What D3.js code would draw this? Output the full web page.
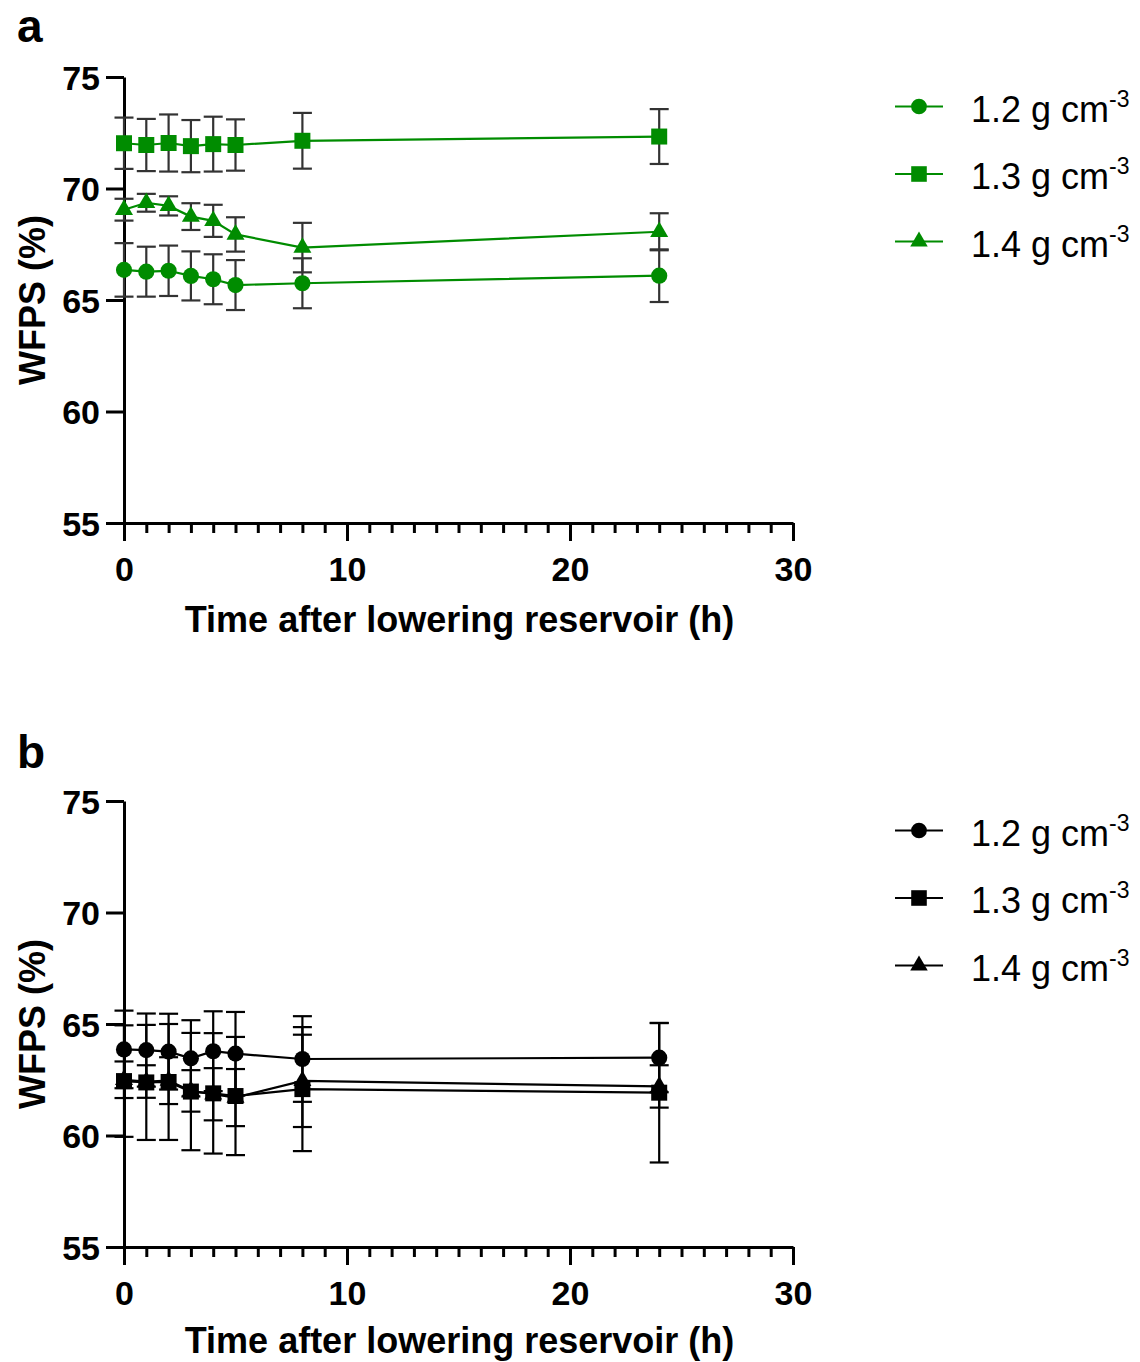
<!DOCTYPE html>
<html>
<head>
<meta charset="utf-8">
<script src="https://cdn.jsdelivr.net/npm/d3@7"></script>
<style>
  html, body { margin: 0; padding: 0; background: #fff; }
  svg { display: block; }
  text { font-family: "Liberation Sans", Arial, Helvetica, sans-serif; fill: #000; }
</style>
</head>
<body>
<svg id="fig" width="1140" height="1362"></svg>
<script>
// Sampling times (h after lowering the reservoir)
const hours = [0, 1, 2, 3, 4, 5, 8, 24];
const densityLabels = ["1.2", "1.3", "1.4"];
const xTicks = [0, 10, 20, 30];
const yTicks = [55, 60, 65, 70, 75];

// Panel a: mean WFPS (%) and error per bulk density
const a12 = [66.35, 66.27, 66.31, 66.08, 65.93, 65.67, 65.75, 66.09];
const a12err = [1.2, 1.12, 1.13, 1.1, 1.12, 1.12, 1.12, 1.18];
const a13 = [72.03, 71.95, 72.04, 71.9, 71.99, 71.95, 72.14, 72.33];
const a13err = [1.15, 1.17, 1.28, 1.17, 1.23, 1.15, 1.25, 1.23];
const a14 = [69.05, 69.36, 69.22, 68.74, 68.55, 67.94, 67.35, 68.06];
const a14err = [0.49, 0.4, 0.43, 0.6, 0.72, 0.77, 1.11, 0.83];

// Panel b: mean WFPS (%) and error per bulk density
const b12 = [63.86, 63.83, 63.76, 63.46, 63.78, 63.67, 63.43, 63.49];
const b12err = [1.74, 1.64, 1.7, 1.71, 1.79, 1.87, 1.92, 1.55];
const b13 = [62.44, 62.38, 62.4, 61.97, 61.89, 61.77, 62.08, 61.92];
const b13err = [2.5, 2.58, 2.6, 2.63, 2.7, 2.65, 2.78, 3.13];
const b14 = [62.5, 62.42, 62.46, 62.0, 61.85, 61.7, 62.45, 62.2];
const b14err = [0.82, 0.73, 1.05, 0.93, 1.17, 1.28, 2.07, 0.95];

const svg = d3.select("#fig");
const shapes = [d3.symbolCircle, d3.symbolSquare, d3.symbolTriangle];
const shapeSize = [205, 256, 140];

function drawPanel(opts) {
  const { top, letter, letterY, titleY, color, barColor, series } = opts;
  const g = svg.append("g").attr("transform", `translate(0,${top})`);

  const x = d3.scaleLinear().domain([0, 30]).range([124, 793]);
  const y = d3.scaleLinear().domain([55, 75]).range([523, 77]);

  // Panel letter
  g.append("text").attr("x", 17).attr("y", letterY)
    .attr("font-size", 46).attr("font-weight", "bold").text(letter);

  // Minor x ticks (every hour)
  const minor = g.append("g").attr("transform", `translate(0,${y(55)})`)
    .call(d3.axisBottom(x).tickValues(d3.range(0, 31, 1)).tickSize(10).tickFormat(""));
  minor.select(".domain").remove();
  minor.selectAll("line").attr("stroke", "#000").attr("stroke-width", 3);

  // Major x axis
  const xa = g.append("g").attr("transform", `translate(0,${y(55)})`)
    .call(d3.axisBottom(x).tickValues(xTicks).tickSize(18).tickSizeOuter(0).tickFormat(d3.format("d")));
  xa.select(".domain").attr("stroke", "#000").attr("stroke-width", 3);
  xa.selectAll("line").attr("stroke", "#000").attr("stroke-width", 3);
  xa.selectAll("text").attr("y", 34).attr("dy", "0.71em")
    .attr("font-size", 34).attr("font-weight", "bold").attr("fill", "#000");

  // y axis
  const ya = g.append("g").attr("transform", `translate(${x(0)},0)`)
    .call(d3.axisLeft(y).tickValues(yTicks).tickSize(18).tickSizeOuter(0).tickPadding(6));
  ya.select(".domain").attr("stroke", "#000").attr("stroke-width", 3);
  ya.selectAll("line").attr("stroke", "#000").attr("stroke-width", 3);
  ya.selectAll("text").attr("dy", "0.36em")
    .attr("font-size", 34).attr("font-weight", "bold").attr("fill", "#000");

  // Axis titles
  g.append("text").attr("transform", `translate(45,${(y(55) + y(75)) / 2}) rotate(-90)`)
    .attr("text-anchor", "middle").attr("font-size", 36).attr("font-weight", "bold")
    .text("WFPS (%)");
  g.append("text").attr("x", (x(0) + x(30)) / 2 + 1).attr("y", titleY)
    .attr("text-anchor", "middle").attr("font-size", 36).attr("font-weight", "bold")
    .text("Time after lowering reservoir (h)");

  // Error bars
  const cap = 9.5;
  series.forEach(s => {
    const eb = g.append("g").attr("stroke", barColor).attr("stroke-width", 2.2).attr("fill", "none");
    hours.forEach((h, i) => {
      const cx = x(h), hi = y(s.mean[i] + s.err[i]), lo = y(s.mean[i] - s.err[i]);
      eb.append("line").attr("x1", cx).attr("x2", cx).attr("y1", hi).attr("y2", lo);
      eb.append("line").attr("x1", cx - cap).attr("x2", cx + cap).attr("y1", hi).attr("y2", hi);
      eb.append("line").attr("x1", cx - cap).attr("x2", cx + cap).attr("y1", lo).attr("y2", lo);
    });
  });

  // Connecting lines
  const line = d3.line().x((d, i) => x(hours[i])).y(d => y(d));
  series.forEach(s => {
    g.append("path").datum(s.mean).attr("d", line)
      .attr("fill", "none").attr("stroke", color).attr("stroke-width", 2.2);
  });

  // Markers
  series.forEach((s, k) => {
    const sym = d3.symbol().type(shapes[k]).size(shapeSize[k]);
    g.append("g").selectAll("path").data(s.mean).join("path")
      .attr("transform", (d, i) => `translate(${x(hours[i])},${y(d)})`)
      .attr("d", sym).attr("fill", color);
  });

  // Legend
  const rowY = [106.5, 174, 241.5];
  densityLabels.forEach((lab, k) => {
    const ry = rowY[k];
    g.append("line").attr("x1", 895).attr("x2", 943).attr("y1", ry).attr("y2", ry)
      .attr("stroke", color).attr("stroke-width", 2.2);
    g.append("path").attr("transform", `translate(919,${ry})`)
      .attr("d", d3.symbol().type(shapes[k]).size(shapeSize[k] * 0.95)).attr("fill", color);
    const t = g.append("text").attr("x", 971).attr("y", ry + 15).attr("font-size", 36);
    t.append("tspan").text(`${lab} g cm`);
    t.append("tspan").attr("dy", -15).attr("font-size", 23).text("-3");
  });
}

drawPanel({
  top: 0, letter: "a", letterY: 42, titleY: 632, color: "#008c00", barColor: "#333333",
  series: [
    { mean: a12, err: a12err },
    { mean: a13, err: a13err },
    { mean: a14, err: a14err }
  ]
});

drawPanel({
  top: 724, letter: "b", letterY: 44, titleY: 629, color: "#000000", barColor: "#000000",
  series: [
    { mean: b12, err: b12err },
    { mean: b13, err: b13err },
    { mean: b14, err: b14err }
  ]
});
</script>
</body>
</html>
